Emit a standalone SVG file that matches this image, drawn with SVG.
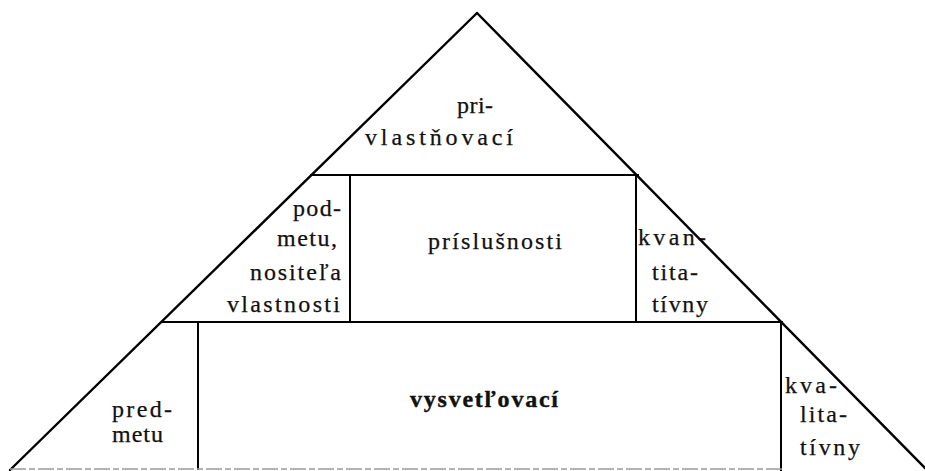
<svg xmlns="http://www.w3.org/2000/svg" width="925" height="471" viewBox="0 0 925 471">
  <style>
    .ln { stroke: #000; stroke-width: 2; fill: none; stroke-linecap: square; }
    .dg { stroke: #000; stroke-width: 2.4; fill: none; stroke-linecap: round; }
    .base { stroke: #9a9a9a; stroke-width: 1.4; fill: none; stroke-dasharray: 16 3 6 3; }
    text { font-family: "Liberation Serif", "DejaVu Serif", serif; font-size: 24px; fill: #111; stroke: #111; stroke-width: 0.25; }
    .b { font-weight: bold; stroke-width: 0.4; }
  </style>
  <rect width="925" height="471" fill="#fff"/>
  <g id="privlastnovaci">
    <text x="457" y="113" textLength="36" lengthAdjust="spacing">pri-</text>
    <text x="365" y="145" textLength="148" lengthAdjust="spacing">vlastňovací</text>
  </g>
  <g id="podmetu">
    <text x="293" y="216" textLength="48" lengthAdjust="spacing">pod-</text>
    <text x="277" y="246" textLength="60" lengthAdjust="spacing">metu,</text>
    <text x="250" y="280" textLength="91" lengthAdjust="spacing">nositeľa</text>
    <text x="227" y="312" textLength="113" lengthAdjust="spacing">vlastnosti</text>
  </g>
  <g id="prislusnosti">
    <text x="428" y="249" textLength="134" lengthAdjust="spacing">príslušnosti</text>
  </g>
  <g id="kvantitativny">
    <text x="638" y="245" textLength="68" lengthAdjust="spacing">kvan-</text>
    <text x="652" y="280" textLength="46" lengthAdjust="spacing">tita-</text>
    <text x="652" y="312" textLength="56" lengthAdjust="spacing">tívny</text>
  </g>
  <g id="predmetu">
    <text x="112" y="417" textLength="60" lengthAdjust="spacing">pred-</text>
    <text x="112" y="442" textLength="51" lengthAdjust="spacing">metu</text>
  </g>
  <g id="vysvetlovaci">
    <text class="b" x="410" y="407" textLength="148" lengthAdjust="spacing">vysvetľovací</text>
  </g>
  <g id="kvalitativny">
    <text x="785" y="393" textLength="52" lengthAdjust="spacing">kva-</text>
    <text x="800" y="422" textLength="47" lengthAdjust="spacing">lita-</text>
    <text x="800" y="455" textLength="60" lengthAdjust="spacing">tívny</text>
  </g>
  <g id="frame">
    <line class="dg" x1="477" y1="13" x2="10" y2="470"/>
    <line class="dg" x1="477" y1="13" x2="928" y2="471"/>
    <line class="ln" x1="311" y1="175" x2="638" y2="175"/>
    <line class="ln" x1="162" y1="322" x2="782" y2="322"/>
    <line class="ln" x1="350" y1="175" x2="350" y2="322"/>
    <line class="ln" x1="636" y1="175" x2="636" y2="322"/>
    <line class="ln" x1="198" y1="322" x2="198" y2="469"/>
    <line class="ln" x1="781" y1="322" x2="781" y2="471"/>
    <line class="base" x1="10" y1="469" x2="782" y2="469"/>
  </g>
</svg>
